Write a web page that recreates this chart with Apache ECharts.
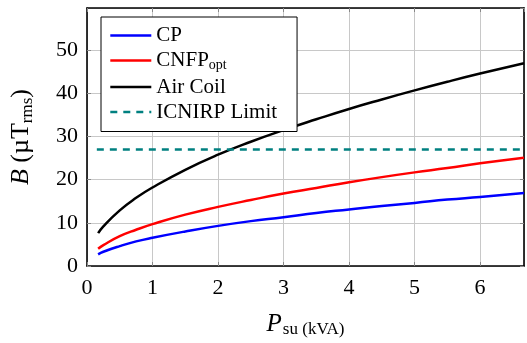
<!DOCTYPE html>
<html><head><meta charset="utf-8">
<script src="https://cdn.jsdelivr.net/npm/echarts@6/dist/echarts.min.js"></script>
<style>html,body{margin:0;padding:0;background:#fff}#c{width:527px;height:343px}</style>
</head><body><div id="c"></div>
<script>
const xs      = [0.17, 0.25, 0.5, 0.75, 1, 1.5, 2, 2.5, 3, 3.5, 4, 4.5, 5, 5.5, 6, 6.67];
const cp      = [2.7, 3.3, 4.6, 5.7, 6.55, 8.0, 9.3, 10.4, 11.3, 12.3, 13.1, 13.9, 14.6, 15.4, 16.0, 16.9];
const cnfp    = [4.0, 4.85, 6.9, 8.4, 9.7, 11.9, 13.7, 15.3, 16.8, 18.1, 19.4, 20.6, 21.7, 22.7, 23.8, 25.1];
const airCoil = [7.6, 9.2, 12.9, 15.8, 18.2, 22.3, 25.8, 28.8, 31.5, 34.0, 36.4, 38.6, 40.7, 42.7, 44.6, 47.0];
const limitX  = [0.15, 6.67];
const limitY  = [27, 27];
const names   = ['CP', 'CNFP_opt', 'Air Coil', 'ICNIRP Limit'];
const xTicks  = [0, 1, 2, 3, 4, 5, 6];
const yTicks  = [0, 10, 20, 30, 40, 50];

const font = 'Liberation Serif';
const pair = (a, b) => a.map((v, i) => [v, b[i]]);
const chart = echarts.init(document.getElementById('c'));
const gridLine = {show: true, lineStyle: {color: '#c8c8c8', width: 1}};
const tickStyle = {show: true, inside: true, length: 4, lineStyle: {color: '#888', width: 1}};
const boxLine = {show: true, onZero: false, lineStyle: {color: '#000', width: 1.6}};
chart.setOption({
  animation: false,
  grid: {left: 87, right: 3, top: 8, bottom: 67},
  legend: {
    orient: 'vertical', left: 101, top: 17,
    data: names,
    backgroundColor: '#fff', borderColor: '#000', borderWidth: 1,
    padding: [8, 20, 9, 8], itemGap: 4, itemWidth: 41, itemHeight: 14,
    itemStyle: {opacity: 0}, lineStyle: {width: 2.6},
    textStyle: {fontFamily: font, fontSize: 21, color: '#000',
      rich: {m: {fontFamily: font, fontSize: 21, color: '#000'}, s: {fontFamily: font, fontSize: 14, color: '#000', padding: [10, 0, 0, 0]}}},
    formatter: n => n === 'CNFP_opt' ? '{m|CNFP}{s|opt}' : '{m|' + n + '}'
  },
  xAxis: [{
    type: 'value', min: 0, max: 6.67, interval: 1,
    axisLine: boxLine, axisTick: tickStyle, splitLine: gridLine,
    axisLabel: {fontFamily: font, fontSize: 22, color: '#000', margin: 5, padding: [6, 0, 0, 0], showMaxLabel: false,
      formatter: v => xTicks.includes(v) ? String(v) : ''},
    name: '{i|P}{s|su (kVA)}', nameLocation: 'middle', nameGap: 44,
    nameTextStyle: {rich: {i: {fontFamily: font, fontStyle: 'italic', fontSize: 25, color: '#000'}, s: {fontFamily: font, fontSize: 17, color: '#000', padding: [11, 0, 0, 1]}}}
  }, {
    type: 'value', position: 'top', min: 0, max: 6.67, interval: 1,
    axisLine: boxLine, axisTick: tickStyle, splitLine: {show: false}, axisLabel: {show: false}
  }],
  yAxis: [{
    type: 'value', min: 0, max: 59.8, interval: 10,
    axisLine: boxLine, axisTick: tickStyle, splitLine: gridLine,
    axisLabel: {fontFamily: font, fontSize: 22, color: '#000', margin: 9, lineHeight: 28, verticalAlign: 'middle', padding: [5, 0, 0, 0], showMaxLabel: false,
      formatter: v => yTicks.includes(v) ? String(v) : ''},
    name: '{i|B}{m| (µT}{s|rms}{m|)}', nameLocation: 'middle', nameGap: 51, nameRotate: 90,
    nameTextStyle: {rich: {i: {fontFamily: font, fontStyle: 'italic', fontSize: 26, color: '#000'}, m: {fontFamily: font, fontSize: 26, color: '#000'}, s: {fontFamily: font, fontSize: 17, color: '#000', padding: [12, 0, 0, 0]}}}
  }, {
    type: 'value', position: 'right', min: 0, max: 59.8, interval: 10,
    axisLine: boxLine, axisTick: tickStyle, splitLine: {show: false}, axisLabel: {show: false}
  }],
  series: [
    {name: names[0], type: 'line', data: pair(xs, cp), smooth: true, symbol: 'none', lineStyle: {color: '#0000ff', width: 2.5}, itemStyle: {color: '#0000ff'}},
    {name: names[1], type: 'line', data: pair(xs, cnfp), smooth: true, symbol: 'none', lineStyle: {color: '#ff0000', width: 2.5}, itemStyle: {color: '#ff0000'}},
    {name: names[2], type: 'line', data: pair(xs, airCoil), smooth: true, symbol: 'none', lineStyle: {color: '#000000', width: 2.5}, itemStyle: {color: '#000000'}},
    {name: names[3], type: 'line', data: pair(limitX, limitY), symbol: 'none', lineStyle: {color: '#008080', width: 2.5, type: [7, 6]}, itemStyle: {color: '#008080'}}
  ]
});
</script></body></html>
